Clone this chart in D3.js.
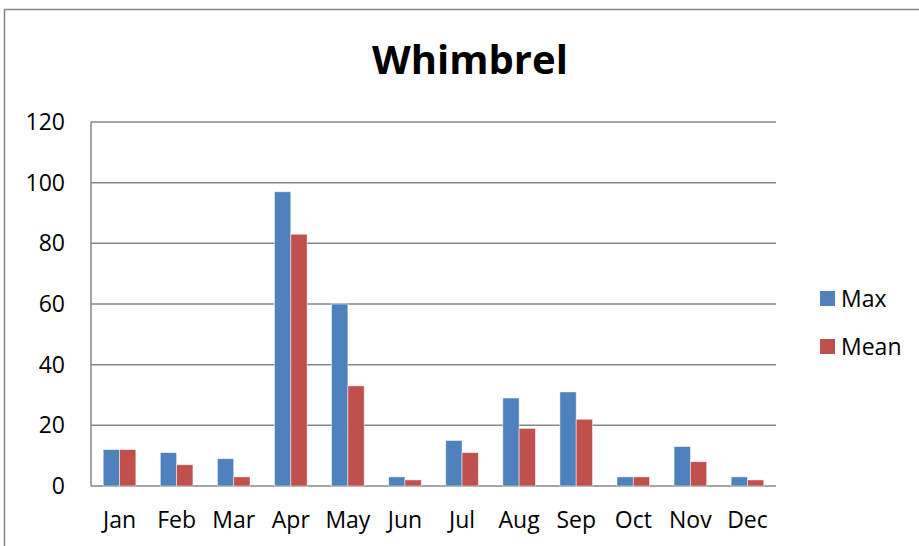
<!DOCTYPE html>
<html>
<head>
<meta charset="utf-8">
<script src="https://d3js.org/d3.v7.min.js"></script>
<style>
	body { margin: 0; background: #fff; }
	text { font-family: "Open Sans", "Noto Sans", sans-serif; fill: #000; }
</style>
</head>
<body>
<script>
//Chart data
let months = ["Jan", "Feb", "Mar", "Apr", "May", "Jun", "Jul", "Aug", "Sep", "Oct", "Nov", "Dec"];
let maxValues = [12, 11, 9, 97, 60, 3, 15, 29, 31, 3, 13, 3];
let meanValues = [12, 7, 3, 83, 33, 2, 11, 19, 22, 3, 8, 2];
let seriesNames = ["Max", "Mean"];
let yTicks = [0, 20, 40, 60, 80, 100, 120];

window.onload = drawChart();

function drawChart(){

	let width = 919;
	let height = 546;
	let colors = ["#4F81BD", "#C0504D"];

	let svg = d3.select("body")
		.append("svg")
		.attr("width", width)
		.attr("height", height);

	//Outer chart border
	svg.append("rect")
		.attr("x", 4.5)
		.attr("y", 9.5)
		.attr("width", 930)
		.attr("height", 560)
		.attr("fill", "none")
		.attr("stroke", "#868686")
		.attr("stroke-width", 1.5);

	//Plot area
	let left = 91, right = 776, top = 122, bottom = 486;

	let x = d3.scaleBand()
		.domain(months)
		.range([left, right])
		.paddingInner(0)
		.paddingOuter(0);

	let inner = d3.scaleBand()
		.domain(seriesNames)
		.range([0, x.bandwidth()])
		.paddingInner(0)
		.paddingOuter(0.75);

	let y = d3.scaleLinear()
		.domain([0, 120])
		.range([bottom, top]);

	//Gridlines
	svg.append("g")
		.selectAll("line")
		.data(yTicks)
		.enter()
		.append("line")
		.attr("x1", left)
		.attr("x2", right)
		.attr("y1", d => y(d))
		.attr("y2", d => y(d))
		.attr("stroke", "#868686")
		.attr("stroke-width", 1.5);

	//Vertical axis line
	svg.append("line")
		.attr("x1", left)
		.attr("x2", left)
		.attr("y1", top)
		.attr("y2", bottom)
		.attr("stroke", "#868686")
		.attr("stroke-width", 1.5);

	//Y axis labels
	let yAxis = svg.append("g")
		.attr("transform", "translate(" + (left - 26) + ",0)")
		.call(d3.axisLeft(y).tickValues(yTicks).tickSize(0).tickPadding(0));
	yAxis.select(".domain").remove();
	yAxis.selectAll("text")
		.attr("font-size", 23)
		.attr("font-family", "Open Sans, Noto Sans, sans-serif")
		.attr("fill", "#000");

	//X axis labels
	let xAxis = svg.append("g")
		.attr("transform", "translate(0," + (bottom + 26) + ")")
		.call(d3.axisBottom(x).tickSize(0).tickPadding(0));
	xAxis.select(".domain").remove();
	xAxis.selectAll("text")
		.attr("font-size", 23)
		.attr("font-family", "Open Sans, Noto Sans, sans-serif")
		.attr("fill", "#000");

	//Bars
	let rows = months.map((m, i) => ({month: m, values: [maxValues[i], meanValues[i]]}));

	let groups = svg.selectAll(".group")
		.data(rows)
		.enter()
		.append("g")
		.attr("class", "group")
		.attr("transform", d => "translate(" + x(d.month) + ",0)");

	groups.selectAll("rect")
		.data(d => d.values.map((v, j) => ({name: seriesNames[j], value: v, j: j})))
		.enter()
		.append("rect")
		.attr("x", d => inner(d.name))
		.attr("y", d => y(d.value))
		.attr("width", inner.bandwidth())
		.attr("height", d => bottom - y(d.value))
		.attr("fill", d => colors[d.j])
		.attr("stroke", "rgba(255,255,255,0.6)")
		.attr("stroke-width", 0.8);

	//Title
	svg.append("text")
		.attr("x", 470)
		.attr("y", 74)
		.attr("text-anchor", "middle")
		.attr("font-size", 40)
		.attr("font-weight", "bold")
		.text("Whimbrel");

	//Legend
	let legend = svg.selectAll(".legend")
		.data(seriesNames)
		.enter()
		.append("g")
		.attr("class", "legend")
		.attr("transform", (d, i) => "translate(820," + (291 + i * 48) + ")");

	legend.append("rect")
		.attr("width", 15)
		.attr("height", 15)
		.attr("fill", (d, i) => colors[i]);

	legend.append("text")
		.attr("x", 21)
		.attr("y", 16)
		.attr("font-size", 23)
		.text(d => d);
};
</script>
</body>
</html>
